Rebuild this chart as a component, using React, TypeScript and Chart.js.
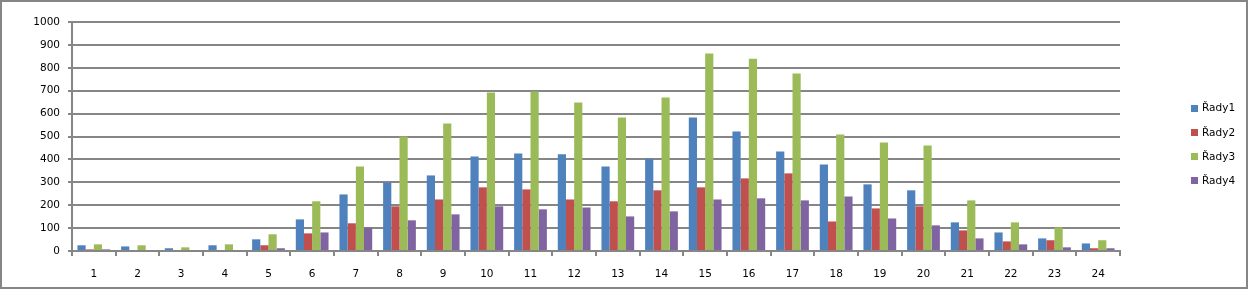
import React, { useEffect, useRef } from "react";
import { Chart, registerables } from "chart.js";

Chart.register(...registerables);

const categories = ["1","2","3","4","5","6","7","8","9","10","11","12","13","14","15","16","17","18","19","20","21","22","23","24"];
const rady1 = [25, 20, 12, 25, 51, 138, 247, 299, 330, 413, 426, 422, 369, 403, 583, 522, 435, 378, 291, 265, 125, 81, 55, 33];
const rady2 = [7, 0, 0, 0, 25, 77, 121, 195, 225, 278, 269, 225, 217, 265, 278, 317, 339, 129, 186, 195, 90, 42, 47, 12];
const rady3 = [29, 25, 16, 29, 73, 217, 369, 500, 557, 692, 696, 648, 583, 670, 862, 840, 775, 509, 474, 461, 221, 125, 103, 47];
const rady4 = [7, 0, 0, 0, 12, 81, 103, 134, 160, 195, 182, 190, 151, 173, 225, 230, 221, 238, 142, 112, 55, 29, 16, 12];
const seriesNames = ["Řady1", "Řady2", "Řady3", "Řady4"];
const seriesColors = ["#4F81BD", "#C0504D", "#9BBB59", "#8064A2"];

const GRAY = "#868686";
const FONT = "'DejaVu Sans', Verdana, sans-serif";

const framePlugin = {
  id: "frameAndLegend",
  afterDraw(chart: any) {
    const ctx = chart.ctx;
    ctx.save();
    ctx.strokeStyle = GRAY;
    ctx.lineWidth = 2;
    ctx.strokeRect(1, 1, 1246, 287);
    // legend
    const ds = chart.data.datasets;
    const spacing = 24.3;
    const centerY = 144.5;
    const startY = centerY - ((ds.length - 1) * spacing) / 2;
    ctx.font = `10.5px ${FONT}`;
    ctx.textBaseline = "middle";
    ctx.textAlign = "left";
    ds.forEach((d: any, i: number) => {
      const y = startY + i * spacing;
      ctx.fillStyle = d.backgroundColor;
      ctx.fillRect(1191, Math.round(y - 3.5), 7, 7);
      ctx.fillStyle = "#000";
      ctx.fillText(d.label, 1202, y + 0.5);
    });
    ctx.restore();
  },
};

export default function App() {
  const ref = useRef<HTMLCanvasElement | null>(null);
  useEffect(() => {
    if (!ref.current) return;
    const values = [rady1, rady2, rady3, rady4];
    const chart = new Chart(ref.current, {
      type: "bar",
      data: {
        labels: categories,
        datasets: values.map((v, i) => ({
          label: seriesNames[i],
          data: v,
          backgroundColor: seriesColors[i],
          borderWidth: 0,
          categoryPercentage: 0.75,
          barPercentage: 1,
        })),
      },
      options: {
        responsive: false,
        devicePixelRatio: 1,
        animation: false,
        events: [],
        layout: { padding: { left: 0, top: 22, right: 129, bottom: 0 } },
        plugins: {
          legend: { display: false },
          tooltip: { enabled: false },
          title: { display: false },
        },
        scales: {
          x: {
            grid: {
              drawOnChartArea: false,
              drawTicks: true,
              tickLength: 5,
              color: GRAY,
              lineWidth: 2,
              offset: true,
            },
            border: { display: true, color: GRAY, width: 2 },
            ticks: {
              color: "#000",
              font: { family: FONT, size: 10.5 },
              padding: 12,
              maxRotation: 0,
              autoSkip: false,
            },
            afterFit: (s: any) => {
              s.height = 39;
            },
          },
          y: {
            min: 0,
            max: 1000,
            grid: {
              color: GRAY,
              lineWidth: 2,
              drawTicks: true,
              tickLength: 4,
            },
            border: { display: true, color: GRAY, width: 2 },
            ticks: {
              stepSize: 100,
              color: "#000",
              font: { family: FONT, size: 10.5 },
              padding: 8,
              callback: (v: any) => String(v),
            },
            afterFit: (s: any) => {
              s.width = 72;
            },
          },
        },
      },
      plugins: [framePlugin],
    });
    return () => chart.destroy();
  }, []);
  return (
    <div style={{ position: "fixed", left: 0, top: 0, width: 1249, height: 290, background: "#fff" }}>
      <canvas ref={ref} width={1249} height={290} style={{ display: "block" }} />
    </div>
  );
}
